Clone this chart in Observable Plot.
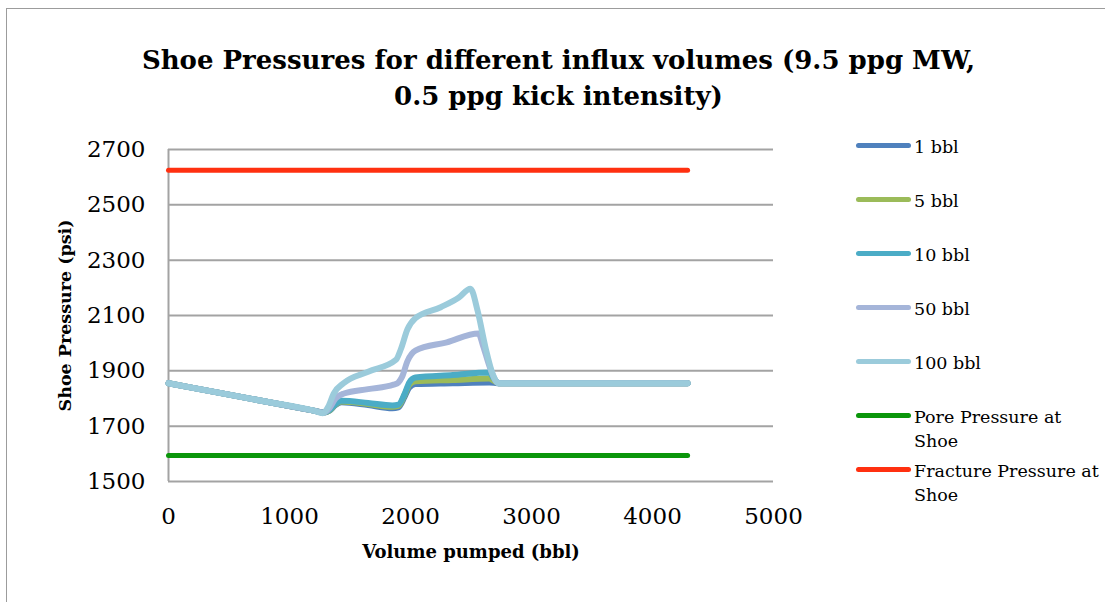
<!DOCTYPE html>
<html>
<head>
<meta charset="utf-8">
<script src="https://cdn.jsdelivr.net/npm/d3@7"></script>
<script src="https://cdn.jsdelivr.net/npm/@observablehq/plot@0.6"></script>
<style>
  html, body { margin: 0; padding: 0; background: #fff; overflow: hidden; }
  #chart { position: relative; width: 1105px; height: 602px; font-family: "DejaVu Serif", serif; color: #000; overflow: hidden; }
  #frame { position: absolute; left: 6px; top: 8px; width: 1200px; height: 700px; border: 1px solid #9c9c9c; box-sizing: border-box; }
  #plot { position: absolute; left: 0; top: 0; }
  #title { position: absolute; left: 0; width: 1117px; top: 42px; text-align: center; font-weight: bold; font-size: 26px; line-height: 36px; }
  .sw { position: absolute; left: 856px; width: 55px; height: 5px; border-radius: 3px; }
  .lt { position: absolute; left: 914px; font-size: 17.5px; line-height: 24px; white-space: nowrap; }
</style>
</head>
<body>
<div id="chart">
  <div id="frame"></div>
  <div id="plot"></div>
  <div id="title">Shoe Pressures for different influx volumes (9.5 ppg MW,<br>0.5 ppg kick intensity)</div>
</div>
<script>
// Volume pumped (bbl) and shoe pressure (psi) for each influx volume
const vol1   = [0, 400, 800, 1200, 1280, 1330, 1380, 1430, 1650, 1850, 1900, 1950, 1990, 2040, 2350, 2650, 2690, 2730, 3500, 4290];
const shoe1  = [1855, 1822, 1789, 1756, 1749, 1756, 1776, 1786, 1776, 1765, 1768, 1805, 1840, 1852, 1855, 1858, 1857, 1855, 1855, 1855];

const vol5   = [0, 400, 800, 1200, 1280, 1330, 1380, 1430, 1650, 1850, 1900, 1950, 1990, 2040, 2350, 2650, 2690, 2730, 3500, 4290];
const shoe5  = [1855, 1822, 1789, 1756, 1749, 1757, 1778, 1789, 1780, 1770, 1773, 1812, 1850, 1862, 1867, 1872, 1864, 1855, 1855, 1855];

const vol10  = [0, 400, 800, 1200, 1280, 1330, 1380, 1430, 1650, 1850, 1900, 1950, 1990, 2040, 2350, 2650, 2690, 2730, 3500, 4290];
const shoe10 = [1855, 1822, 1789, 1756, 1749, 1758, 1780, 1792, 1784, 1775, 1778, 1815, 1858, 1876, 1885, 1894, 1872, 1855, 1855, 1855];

const vol50  = [0, 400, 800, 1200, 1280, 1330, 1380, 1450, 1650, 1860, 1900, 1930, 1975, 2040, 2300, 2562, 2600, 2650, 2700, 2730, 3500, 4290];
const shoe50 = [1855, 1822, 1789, 1756, 1749, 1765, 1800, 1818, 1834, 1850, 1858, 1878, 1935, 1973, 2003, 2035, 1990, 1920, 1866, 1855, 1855, 1855];

const vol100  = [0, 400, 800, 1200, 1275, 1320, 1365, 1446, 1650, 1880, 1920, 1975, 2040, 2250, 2400, 2495, 2554, 2620, 2678, 2727, 3500, 4290];
const shoe100 = [1855, 1822, 1789, 1756, 1747, 1770, 1818, 1855, 1897, 1940, 1978, 2050, 2090, 2130, 2165, 2197, 2118, 1984, 1890, 1855, 1855, 1855];

// Formation limits at the casing shoe
const limitVolume = [0, 4290];
const porePressure = 1594;
const fracturePressure = 2625;

// Axis ticks
const xTicks = [0, 1000, 2000, 3000, 4000, 5000];
const yTicks = [1500, 1700, 1900, 2100, 2300, 2500, 2700];

// Series names and colours (drawing order)
const seriesNames  = ["1 bbl", "5 bbl", "10 bbl", "50 bbl", "100 bbl"];
const seriesColors = ["#4f81bd", "#9bbb59", "#4bacc6", "#a5b5d9", "#9bcbdb"];
const limitNames   = ["Pore Pressure at\nShoe", "Fracture Pressure at\nShoe"];
const limitColors  = ["#0b960b", "#ff3010"];

const seriesVols = [vol1, vol5, vol10, vol50, vol100];
const seriesShoe = [shoe1, shoe5, shoe10, shoe50, shoe100];
const rows = seriesNames.flatMap((name, i) =>
  seriesVols[i].map((v, j) => ({series: name, volume: v, pressure: seriesShoe[i][j]})));
const limitRows = [
  ...limitVolume.map(v => ({series: limitNames[0], volume: v, pressure: porePressure})),
  ...limitVolume.map(v => ({series: limitNames[1], volume: v, pressure: fracturePressure}))
];

const plot = Plot.plot({
  width: 1105,
  height: 602,
  marginLeft: 168,
  marginRight: 332,
  marginTop: 149,
  marginBottom: 121,
  style: {fontFamily: "'DejaVu Serif', serif", fontSize: "23px", background: "transparent", color: "#000"},
  x: {domain: [0, 5000]},
  y: {domain: [1500, 2700]},
  color: {domain: [...seriesNames, ...limitNames], range: [...seriesColors, ...limitColors]},
  marks: [
    Plot.gridY(yTicks, {stroke: "#a3a3a3", strokeOpacity: 1, strokeWidth: 2}),
    Plot.ruleX([0], {y1: 1500, y2: 2700, stroke: "#a3a3a3", strokeWidth: 2}),
    Plot.axisX(xTicks, {tickSize: 0, tickPadding: 26, fontSize: 23, label: null, tickFormat: d => String(d)}),
    Plot.axisY(yTicks, {tickSize: 0, tickPadding: 23, fontSize: 23, label: null, tickFormat: d => String(d)}),
    Plot.line(rows, {x: "volume", y: "pressure", z: "series", stroke: "series", strokeWidth: 6, curve: "monotone-x", strokeLinecap: "round", strokeLinejoin: "round"}),
    Plot.line(limitRows, {x: "volume", y: "pressure", z: "series", stroke: "series", strokeWidth: 5}),
    Plot.text(["Volume pumped (bbl)"], {frameAnchor: "bottom", dy: 71, fontWeight: "bold", fontSize: 18, text: d => d, lineAnchor: "middle"}),
    Plot.text(["Shoe Pressure (psi)"], {frameAnchor: "left", dx: -103, rotate: -90, textAnchor: "middle", fontWeight: "bold", fontSize: 17.5, text: d => d, lineAnchor: "middle"})
  ]
});
document.getElementById("plot").appendChild(plot);

// Legend on the right
const chart = document.getElementById("chart");
const legendItems = [...seriesNames, ...limitNames];
const legendColors = [...seriesColors, ...limitColors];
legendItems.forEach((name, i) => {
  const cy = 145 + i * 54;
  const sw = document.createElement("div");
  sw.className = "sw";
  sw.style.top = (cy - 2.5) + "px";
  sw.style.background = legendColors[i];
  chart.appendChild(sw);
  const lt = document.createElement("div");
  lt.className = "lt";
  lt.style.top = (cy - 10) + "px";
  lt.innerHTML = name.replace("\n", "<br>");
  chart.appendChild(lt);
});
</script>
</body>
</html>
